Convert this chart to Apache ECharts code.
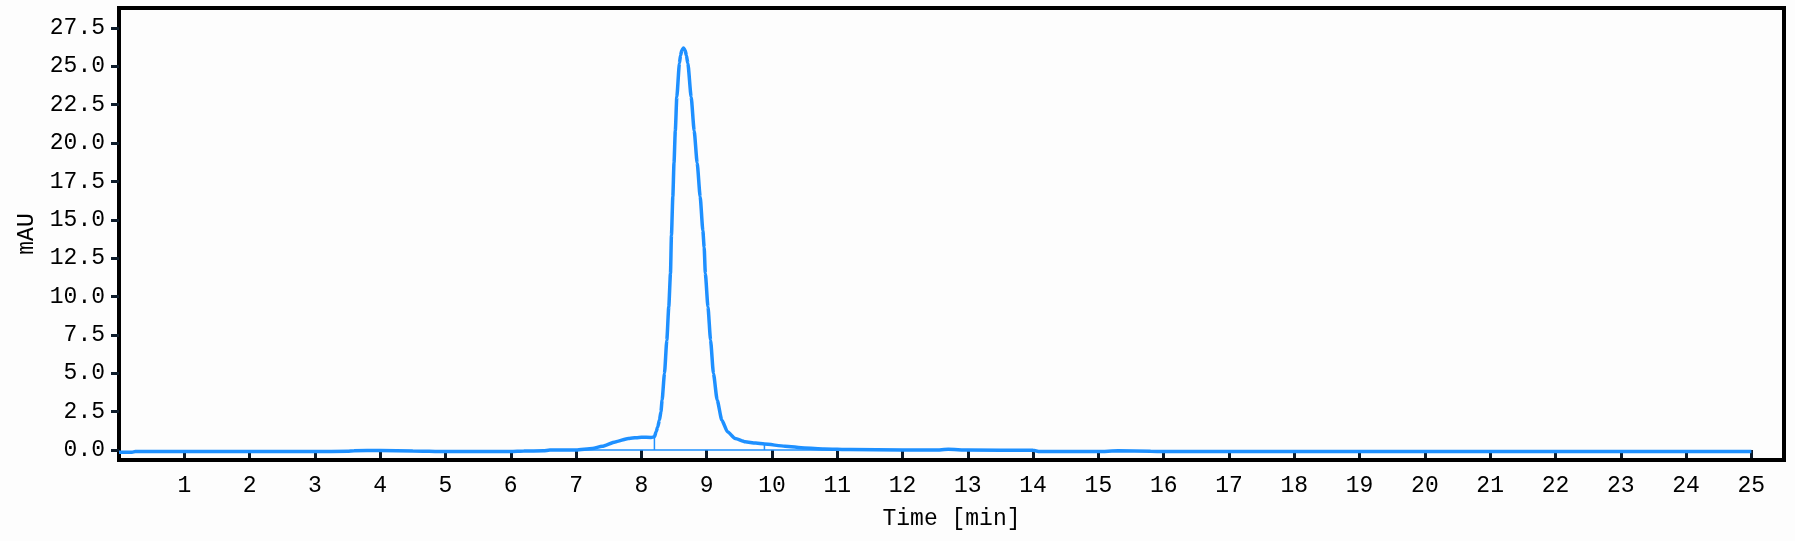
<!DOCTYPE html>
<html>
<head>
<meta charset="utf-8">
<script src="https://cdn.jsdelivr.net/npm/echarts@6/dist/echarts.min.js"></script>
<style>
  html, body { margin: 0; padding: 0; background: #fdfdfd; }
  #chrom_echart { width: 1795px; height: 541px; }
</style>
</head>
<body>
<div id="chrom_echart"></div>
<script>
// 色谱图数据 (Time [min] / mAU)
var times = [0, 0.2, 0.25, 1, 2, 3, 3.5, 3.6, 4, 4.5, 5, 6, 6.2, 6.5, 6.6, 7.0, 7.25, 7.4, 7.6, 7.8,
    8.0, 8.15, 8.2, 8.227, 8.25, 8.277, 8.3, 8.318, 8.354, 8.39, 8.42, 8.446, 8.461, 8.482, 8.5, 8.52, 8.543,
    8.583, 8.60, 8.62, 8.645, 8.67, 8.69, 8.712, 8.763, 8.809, 8.855, 8.901, 8.942, 8.962, 8.98, 9.02, 9.06,
    9.104, 9.161, 9.232, 9.319, 9.436, 9.59, 9.75, 9.885, 10.2, 10.5, 10.8, 11.2, 12, 12.5, 12.7, 13, 14,
    14.1, 15, 15.3, 15.8, 16, 20, 25];
var signal = [-0.15, -0.15, -0.1, -0.1, -0.1, -0.1, -0.08, -0.04, -0.03, -0.06, -0.1, -0.1, -0.07, -0.05, 0.0, 0.0, 0.1, 0.25, 0.53, 0.75,
    0.84, 0.82, 0.87, 1.19, 1.5, 1.95, 2.5, 3.26, 4.99, 7.16, 9.33, 11.5, 14.0, 16.5, 18.7, 20.8, 23.0,
    25.2, 25.7, 26.05, 26.2, 26.05, 25.7, 25.2, 23.0, 20.8, 18.7, 16.5, 14.3, 13.2, 11.5, 9.33, 7.16,
    4.99, 3.26, 1.95, 1.19, 0.75, 0.54, 0.45, 0.39, 0.25, 0.13, 0.07, 0.03, 0.0, 0.0, 0.05, 0.0, -0.02,
    -0.1, -0.1, -0.05, -0.08, -0.1, -0.1, -0.1];

// 积分基线和分割线
var baseline = [[6.5, 0], [11.5, 0]];
var dropLine1 = [[8.2, 0], [8.2, 0.87]];
var dropLine2 = [[9.885, 0], [9.885, 0.39]];

var xTicks = [1, 2, 3, 4, 5, 6, 7, 8, 9, 10, 11, 12, 13, 14, 15, 16, 17, 18, 19, 20, 21, 22, 23, 24, 25];
var yTicks = [0, 2.5, 5, 7.5, 10, 12.5, 15, 17.5, 20, 22.5, 25, 27.5];

var fontName = '"Liberation Mono", monospace';
var lineColor = '#1e90ff';

var mainData = times.map(function (t, i) { return [t, signal[i]]; });

var myChart = echarts.init(document.getElementById('chrom_echart'));
var option = {
    backgroundColor: '#fdfdfd',
    animation: false,
    grid: {
        left: 119,
        right: 11,
        top: 8,
        bottom: 81,
        show: true,
        borderColor: '#000',
        borderWidth: 4
    },
    xAxis: {
        type: 'value',
        min: 0,
        max: 25.5,
        name: 'Time [min]',
        nameLocation: 'middle',
        nameGap: 47,
        nameTextStyle: { color: '#000', fontFamily: fontName, fontSize: 23 },
        axisLine: { show: false },
        axisTick: {
            show: true,
            customValues: xTicks,
            length: 8,
            lineStyle: { color: '#0d1b2a', width: 3 }
        },
        axisLabel: {
            customValues: xTicks,
            margin: 14,
            color: '#000',
            fontFamily: fontName,
            fontSize: 23
        },
        splitLine: { show: false }
    },
    yAxis: {
        type: 'value',
        min: -0.65,
        max: 28.8,
        name: 'mAU',
        nameLocation: 'middle',
        nameGap: 80,
        nameTextStyle: { color: '#000', fontFamily: fontName, fontSize: 23 },
        axisLine: { show: false },
        axisTick: {
            show: true,
            customValues: yTicks,
            length: 8,
            lineStyle: { color: '#0d1b2a', width: 3 }
        },
        axisLabel: {
            customValues: yTicks,
            margin: 14,
            color: '#000',
            fontFamily: fontName,
            fontSize: 23,
            formatter: function (v) { return v.toFixed(1); }
        },
        splitLine: { show: false }
    },
    series: [{
        name: 'baseline',
        type: 'line',
        data: baseline,
        symbol: 'none',
        lineStyle: { color: lineColor, width: 1.5 }
    }, {
        name: 'drop1',
        type: 'line',
        data: dropLine1,
        symbol: 'none',
        lineStyle: { color: lineColor, width: 1.5 }
    }, {
        name: 'drop2',
        type: 'line',
        data: dropLine2,
        symbol: 'none',
        lineStyle: { color: lineColor, width: 1.5 }
    }, {
        name: 'mAU',
        type: 'line',
        data: mainData,
        symbol: 'none',
        smooth: 0.2,
        smoothMonotone: 'x',
        lineStyle: { color: lineColor, width: 3.5 }
    }]
};
myChart.setOption(option);

window.onresize = function () {
    myChart.resize();
};
</script>
</body>
</html>
